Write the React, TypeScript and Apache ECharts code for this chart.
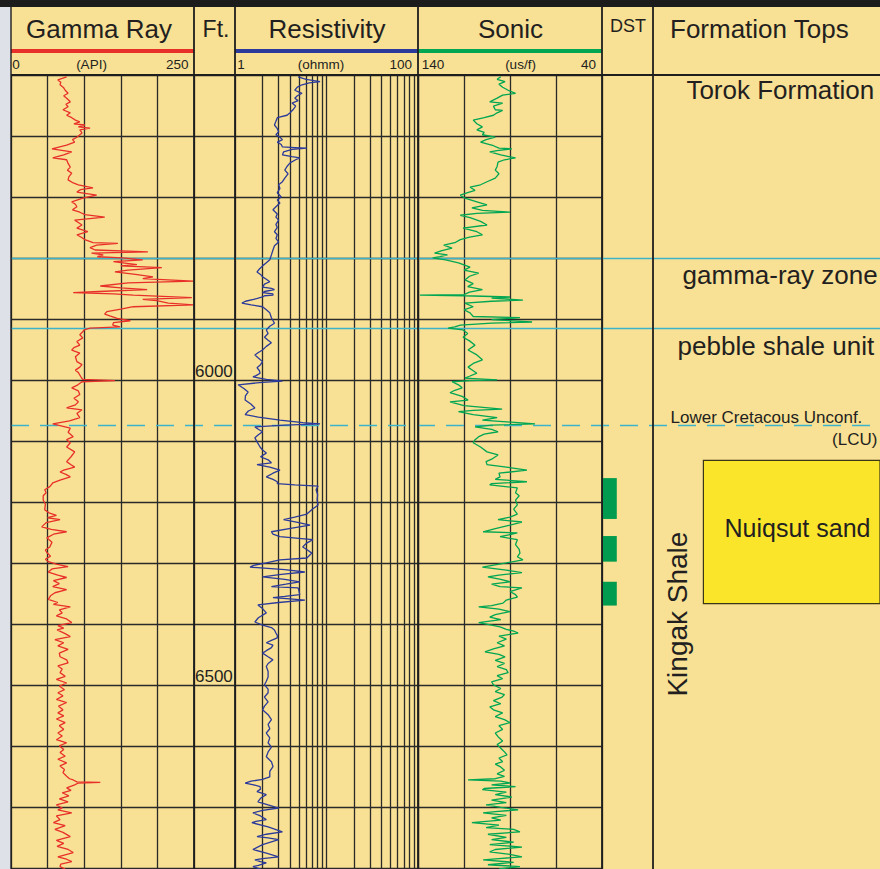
import React, { useEffect, useRef } from "react";
import * as echarts from "echarts";

// Depth window of the log, in feet
const depthTop = 5500;
const depthBottom = 6802;
const depthStep = 100;
const depthLabels = [6000, 6500];

// Gamma ray curve: [depth ft, API]
const gammaRay: [number, number][] = [
  [5503, 76], [5508, 64], [5512, 68], [5516, 67], [5521, 72], [5525, 74], [5530, 78], [5534, 72], [5538, 76], [5544, 81],
  [5548, 75], [5552, 78], [5557, 71], [5562, 81], [5566, 76], [5570, 83], [5574, 88], [5577, 94], [5580, 86], [5582, 101],
  [5585, 92], [5587, 108], [5590, 94], [5595, 97], [5602, 90], [5606, 84], [5610, 87], [5615, 76], [5621, 56], [5626, 83],
  [5631, 72], [5636, 57], [5639, 76], [5645, 78], [5651, 81], [5656, 77], [5661, 83], [5667, 79], [5672, 78], [5677, 85],
  [5680, 92], [5685, 112], [5688, 95], [5692, 90], [5697, 117], [5702, 98], [5708, 83], [5712, 88], [5716, 90], [5721, 84],
  [5725, 94], [5729, 101], [5733, 128], [5738, 87], [5742, 92], [5746, 97], [5751, 90], [5757, 105], [5762, 90], [5766, 96],
  [5770, 101], [5775, 112], [5776, 146], [5779, 117], [5783, 108], [5787, 115], [5790, 187], [5792, 110], [5795, 126], [5798, 118],
  [5800, 152], [5803, 180], [5806, 140], [5808, 153], [5811, 172], [5813, 150], [5816, 206], [5820, 160], [5823, 142], [5827, 170],
  [5831, 194], [5834, 180], [5838, 249], [5841, 160], [5846, 122], [5849, 150], [5852, 186], [5855, 120], [5857, 85], [5859, 140],
  [5861, 167], [5865, 247], [5868, 180], [5870, 199], [5874, 215], [5877, 249], [5880, 167], [5884, 150], [5888, 131], [5892, 128],
  [5895, 135], [5899, 145], [5903, 163], [5906, 140], [5910, 139], [5913, 149], [5915, 108], [5918, 100], [5921, 98], [5926, 94],
  [5931, 98], [5937, 90], [5943, 94], [5947, 86], [5951, 83], [5956, 94], [5962, 88], [5970, 90], [5975, 97], [5979, 94],
  [5984, 88], [5988, 92], [5994, 95], [5999, 98], [6001, 142], [6003, 97], [6009, 90], [6013, 83], [6018, 92], [6024, 94],
  [6030, 86], [6036, 92], [6041, 88], [6046, 76], [6049, 97], [6055, 90], [6062, 94], [6067, 80], [6072, 57], [6079, 81],
  [6086, 78], [6093, 85], [6098, 76], [6103, 81], [6110, 76], [6118, 87], [6126, 82], [6134, 76], [6139, 82], [6143, 87],
  [6148, 72], [6151, 67], [6155, 75], [6159, 81], [6164, 68], [6169, 57], [6175, 53], [6180, 46], [6185, 48], [6190, 44],
  [6197, 44], [6204, 47], [6213, 46], [6218, 52], [6222, 62], [6226, 50], [6229, 67], [6234, 48], [6241, 42], [6245, 55],
  [6249, 76], [6253, 58], [6259, 49], [6266, 56], [6274, 53], [6279, 47], [6283, 49], [6289, 54], [6294, 47], [6298, 51],
  [6302, 62], [6306, 78], [6310, 56], [6315, 51], [6320, 64], [6324, 76], [6329, 58], [6334, 66], [6339, 57], [6344, 76],
  [6349, 60], [6354, 54], [6360, 51], [6365, 64], [6368, 58], [6372, 81], [6377, 66], [6382, 70], [6387, 62], [6392, 76],
  [6398, 83], [6403, 64], [6407, 72], [6410, 63], [6416, 74], [6421, 81], [6426, 60], [6431, 72], [6436, 64], [6442, 78],
  [6448, 66], [6454, 67], [6459, 76], [6464, 78], [6469, 64], [6474, 70], [6480, 67], [6486, 74], [6491, 62], [6497, 76],
  [6502, 66], [6508, 73], [6513, 64], [6518, 71], [6524, 62], [6529, 76], [6535, 65], [6541, 71], [6546, 64], [6551, 72],
  [6556, 62], [6562, 74], [6567, 66], [6573, 72], [6579, 64], [6584, 70], [6590, 62], [6595, 76], [6600, 66], [6606, 72],
  [6611, 67], [6617, 74], [6622, 64], [6628, 76], [6633, 67], [6639, 73], [6644, 71], [6650, 76], [6654, 80], [6656, 85],
  [6659, 90], [6660, 122], [6661, 92], [6664, 87], [6669, 76], [6673, 82], [6677, 70], [6682, 79], [6687, 66], [6692, 78],
  [6697, 62], [6702, 70], [6705, 64], [6710, 83], [6715, 62], [6721, 67], [6726, 58], [6731, 74], [6737, 60], [6742, 71],
  [6749, 81], [6755, 62], [6760, 72], [6765, 63], [6770, 78], [6775, 85], [6782, 64], [6786, 76], [6790, 83], [6794, 68],
  [6798, 67], [6802, 74],
];

// Deep resistivity curve: [depth ft, ohm-m]
const resistivity: [number, number][] = [
  [5503, 4.9], [5507, 6], [5511, 8.5], [5513, 6.5], [5516, 5.4], [5520, 4.8], [5525, 4.5], [5528, 5.0], [5530, 5.4], [5534, 4.8],
  [5538, 4.5], [5542, 4.9], [5546, 4.2], [5551, 4.6], [5557, 4.3], [5562, 4.0], [5566, 3.7], [5570, 2.9], [5576, 2.8], [5582, 2.7],
  [5588, 2.9], [5593, 3.0], [5598, 2.8], [5602, 3.1], [5606, 3.3], [5610, 2.9], [5614, 3.2], [5618, 3.3], [5619, 4.5], [5620, 6.1],
  [5622, 4.2], [5626, 3.4], [5631, 3.3], [5634, 4.2], [5636, 5.1], [5639, 4.6], [5644, 4.0], [5650, 3.7], [5656, 3.5], [5662, 3.8],
  [5669, 3.5], [5675, 3.3], [5680, 3.0], [5686, 3.1], [5693, 2.9], [5700, 3.2], [5705, 2.9], [5710, 3.1], [5716, 2.8], [5721, 2.6],
  [5728, 2.9], [5733, 2.8], [5738, 3.0], [5745, 2.8], [5750, 2.9], [5757, 2.7], [5762, 2.9], [5768, 2.8], [5774, 3.0], [5780, 2.7],
  [5787, 2.6], [5795, 2.5], [5803, 2.4], [5808, 2.2], [5813, 2.0], [5818, 1.85], [5823, 1.74], [5827, 1.9], [5831, 2.0], [5835, 2.2],
  [5839, 2.4], [5843, 2.1], [5848, 2.0], [5850, 2.5], [5852, 2.7], [5855, 2.1], [5857, 2.0], [5859, 2.6], [5861, 2.6], [5862, 2.1],
  [5864, 2.0], [5868, 1.6], [5871, 1.3], [5874, 1.19], [5877, 1.5], [5880, 2.0], [5885, 2.2], [5890, 2.4], [5898, 2.5], [5907, 2.7],
  [5912, 2.4], [5918, 2.2], [5924, 2.3], [5930, 2.1], [5935, 2.3], [5939, 2.5], [5945, 2.2], [5951, 2.0], [5955, 1.8], [5959, 1.65],
  [5964, 1.8], [5970, 2.0], [5975, 1.9], [5980, 1.74], [5985, 1.85], [5989, 1.88], [5993, 1.7], [5995, 1.57], [5999, 2.2], [6002, 3.3],
  [6004, 2.0], [6008, 1.08], [6014, 1.25], [6020, 1.39], [6026, 1.3], [6033, 1.29], [6040, 1.5], [6046, 1.65], [6051, 1.4], [6057, 1.29],
  [6061, 1.8], [6066, 3.1], [6070, 5.5], [6072, 8.5], [6074, 3.5], [6077, 1.65], [6081, 1.8], [6085, 2.0], [6090, 1.8], [6095, 1.65],
  [6102, 1.75], [6110, 1.88], [6115, 2.0], [6120, 2.2], [6126, 1.9], [6131, 2.3], [6136, 2.5], [6139, 1.74], [6143, 2.4], [6148, 3.1],
  [6153, 2.6], [6159, 2.2], [6163, 2.6], [6167, 2.9], [6170, 2.9], [6172, 4.5], [6174, 8.1], [6180, 7.7], [6188, 8.0], [6197, 7.9],
  [6205, 8.1], [6212, 7.0], [6220, 6.1], [6225, 4.5], [6229, 3.4], [6234, 5.0], [6238, 6.6], [6243, 4.2], [6249, 2.5], [6253, 2.6],
  [6257, 3.1], [6260, 5.0], [6262, 7.1], [6268, 6.0], [6274, 5.5], [6279, 6.2], [6284, 6.9], [6288, 6.5], [6292, 6.1], [6295, 3.1],
  [6300, 2.2], [6304, 1.6], [6307, 1.46], [6311, 3.5], [6315, 5.8], [6319, 3.2], [6323, 2.0], [6327, 3.5], [6331, 5.1], [6335, 3.6],
  [6339, 2.5], [6341, 4.9], [6346, 5.0], [6352, 5.1], [6355, 3.5], [6357, 2.6], [6359, 4.0], [6361, 5.8], [6365, 3.0], [6369, 1.78],
  [6375, 2.0], [6382, 2.2], [6390, 1.8], [6397, 1.65], [6402, 2.0], [6406, 2.5], [6410, 2.7], [6415, 2.8], [6419, 2.9], [6423, 2.9],
  [6427, 2.5], [6431, 2.2], [6435, 2.6], [6439, 2.5], [6444, 2.2], [6448, 2.0], [6454, 2.3], [6459, 2.6], [6465, 2.3], [6470, 2.2],
  [6478, 2.3], [6487, 2.3], [6494, 2.2], [6500, 2.1], [6507, 2.3], [6513, 2.3], [6520, 2.1], [6528, 2.3], [6535, 2.1], [6541, 2.0],
  [6549, 2.3], [6557, 2.5], [6565, 2.3], [6572, 2.4], [6579, 2.2], [6587, 2.4], [6595, 2.3], [6602, 2.5], [6610, 2.3], [6618, 2.2],
  [6626, 2.5], [6634, 2.6], [6642, 2.4], [6651, 2.4], [6655, 2.0], [6658, 1.5], [6661, 1.29], [6664, 1.6], [6667, 1.88], [6671, 1.9],
  [6675, 1.74], [6678, 2.0], [6680, 2.2], [6686, 1.9], [6692, 1.78], [6697, 2.3], [6702, 3.0], [6706, 2.0], [6710, 1.57], [6715, 1.9],
  [6721, 2.2], [6724, 1.7], [6726, 1.53], [6733, 2.3], [6741, 3.3], [6745, 2.2], [6749, 1.74], [6751, 2.3], [6754, 3.0], [6762, 2.0],
  [6770, 1.57], [6776, 2.2], [6782, 3.0], [6785, 2.0], [6787, 1.65], [6790, 1.9], [6792, 2.2], [6796, 1.8], [6798, 1.57], [6802, 1.9],
];

// Sonic transit time: [depth ft, us/ft]
const sonic: [number, number][] = [
  [5503, 95], [5507, 97], [5511, 92.7], [5515, 96], [5520, 94], [5525, 91], [5530, 87], [5533, 94], [5538, 97], [5544, 101],
  [5546, 94], [5551, 99], [5557, 98], [5558, 94], [5562, 97], [5566, 99], [5570, 104], [5574, 110], [5580, 108], [5585, 105],
  [5590, 108], [5594, 104], [5598, 105], [5602, 98], [5606, 103], [5610, 106], [5616, 99], [5620, 96], [5621, 89], [5624, 97],
  [5626, 101], [5631, 95], [5636, 87], [5639, 93], [5643, 96.5], [5650, 97], [5656, 98], [5662, 96], [5669, 98], [5675, 102.5],
  [5680, 106], [5684, 111.7], [5689, 109], [5693, 113], [5697, 117], [5702, 114.5], [5708, 108], [5713, 102.5], [5718, 110.7], [5722, 105],
  [5725, 90], [5727, 108], [5730, 117], [5734, 111.7], [5740, 106], [5746, 102.5], [5751, 115.5], [5757, 108], [5762, 105], [5766, 112],
  [5770, 117], [5775, 120], [5779, 126], [5784, 121.5], [5788, 127], [5792, 131], [5795, 124], [5798, 128], [5800, 132], [5803, 125],
  [5808, 118], [5815, 111.7], [5820, 115], [5825, 107], [5830, 112], [5836, 114.5], [5842, 110], [5847, 113], [5852, 105], [5856, 112],
  [5860, 115], [5861, 139], [5862, 115], [5864, 90], [5866, 100], [5869, 83], [5871, 100], [5874, 114.5], [5880, 110], [5885, 115],
  [5890, 111.7], [5896, 110], [5898, 84.6], [5901, 100], [5905, 78], [5907, 100], [5910, 117], [5913, 120], [5915, 123.7], [5918, 115.5],
  [5924, 113], [5930, 115.5], [5936, 112], [5943, 109], [5951, 112.8], [5959, 108], [5967, 105], [5973, 110], [5979, 112.8], [5985, 110],
  [5989, 108], [5994, 112], [5997, 114.5], [6000, 97], [6001, 112], [6003, 121.5], [6008, 118], [6013, 116], [6017, 120], [6021, 122.6],
  [6027, 116], [6033, 112.8], [6036, 122.6], [6042, 115], [6048, 94.3], [6050, 110], [6052, 118], [6057, 110], [6062, 97], [6066, 105],
  [6072, 76.4], [6074, 100], [6077, 109], [6081, 100], [6085, 96.5], [6089, 104], [6093, 107], [6098, 109], [6103, 110], [6110, 106],
  [6118, 102.5], [6123, 96.5], [6130, 100], [6134, 103], [6139, 102.5], [6143, 92], [6148, 80.8], [6153, 96], [6159, 95.4], [6163, 98],
  [6167, 80.8], [6170, 100], [6172, 101], [6177, 86], [6185, 87], [6190, 85], [6197, 87], [6205, 86], [6212, 88], [6220, 86],
  [6225, 90], [6229, 96.5], [6233, 83.5], [6238, 90], [6244, 98], [6249, 104.6], [6251, 86], [6257, 95.4], [6262, 86], [6270, 87],
  [6278, 85], [6284, 84.6], [6290, 86], [6295, 83], [6300, 92], [6307, 105], [6312, 92], [6316, 83.5], [6320, 96], [6323, 102],
  [6327, 95], [6331, 90], [6335, 100], [6339, 95.4], [6341, 83.5], [6347, 90], [6352, 87], [6356, 86], [6361, 92], [6366, 93.8],
  [6370, 100], [6372, 107], [6376, 96], [6380, 90], [6385, 98], [6389, 101], [6393, 95], [6398, 107], [6402, 100], [6405, 95.4],
  [6409, 92], [6412, 88], [6415, 85.6], [6420, 96], [6425, 92], [6431, 97], [6436, 93], [6441, 99], [6446, 103.6], [6450, 96],
  [6454, 92.7], [6460, 98], [6465, 93], [6470, 97], [6475, 92], [6480, 91], [6485, 97], [6490, 94], [6495, 100], [6500, 99],
  [6506, 95], [6511, 98], [6516, 93], [6520, 94.3], [6526, 99], [6531, 95], [6536, 101], [6541, 99], [6546, 94], [6552, 98],
  [6557, 93], [6562, 90], [6567, 96], [6573, 94], [6579, 98], [6585, 96.5], [6592, 94], [6598, 97], [6604, 95], [6610, 93],
  [6615, 91.6], [6620, 96], [6626, 94], [6630, 98], [6634, 95.4], [6640, 93], [6646, 97], [6650, 93], [6654, 98], [6656, 112.8],
  [6658, 95], [6661, 90], [6664, 100], [6667, 87], [6670, 104], [6672, 105], [6676, 92], [6680, 98], [6684, 89], [6689, 100],
  [6693, 92], [6697, 103], [6701, 95], [6705, 85.6], [6708, 98], [6710, 104.6], [6714, 92], [6718, 100], [6722, 95], [6726, 110.7],
  [6730, 96], [6734, 103], [6737, 88], [6741, 84.6], [6745, 102], [6750, 92], [6754, 100], [6758, 88], [6762, 101], [6766, 83.5],
  [6770, 98], [6774, 101], [6778, 90], [6782, 83.5], [6785, 96], [6787, 104.6], [6791, 88], [6795, 102], [6798, 84.6], [6802, 96],
];

// Header texts and scale labels
const trackTitles = ["Gamma Ray", "Ft.", "Resistivity", "Sonic", "DST", "Formation Tops"];
const gammaScale = ["0", "(API)", "250"];
const resistivityScale = ["1", "(ohmm)", "100"];
const sonicScale = ["140", "(us/f)", "40"];

// Log-decade minor grid of the resistivity track
const resistivityMinor = [2, 3, 4, 5, 6, 7, 8, 9, 20, 30, 40, 50, 60, 70, 80, 90];

// Picked surfaces (ft): gamma-ray zone top/base, and the LCU
const zoneSurfaces = [5800, 5916];
const lcuDepth = 6075;

// Drill-stem test intervals [top, base] in ft
const dstIntervals: [number, number][] = [
  [6161, 6228],
  [6256, 6298],
  [6331, 6370],
];

// Nuiqsut sand [top, base] in ft
const nuiqsutSand: [number, number] = [6132, 6367];

const formationNames = [
  "Torok Formation",
  "gamma-ray zone",
  "pebble shale unit",
  "Lower Cretacous Unconf.",
  "(LCU)",
  "Nuiqsut sand",
  "Kingak Shale",
];

// ---- layout ----
const W = 880;
const H = 869;
const PLOT_TOP = 75;
const PLOT_H = H - PLOT_TOP;
const FONT = "'Liberation Sans', Arial, Helvetica, sans-serif";
const INK = "#231f20";
const GRID = "#2a2a2a";
const BG = "#f8e094";

const col = {
  gamma: { left: 11, width: 183 },
  ft: { left: 194, width: 41 },
  res: { left: 235, width: 183 },
  sonic: { left: 418, width: 184 },
  dst: { left: 602, width: 51 },
  tops: { left: 653, width: 227 },
  all: { left: 11, width: 869 },
};

const gridFor = (c: { left: number; width: number }) => ({
  left: c.left,
  top: PLOT_TOP,
  width: c.width,
  height: PLOT_H,
  containLabel: false,
});

const depthAxis = (gridIndex: number, split: boolean, extra: any = {}) => ({
  type: "value",
  gridIndex,
  inverse: true,
  min: depthTop,
  max: depthBottom,
  interval: depthStep,
  axisLine: { show: false },
  axisTick: { show: false },
  axisLabel: { show: false },
  splitLine: { show: split, lineStyle: { color: GRID, width: 1.3 } },
  ...extra,
});

const hiddenX = (gridIndex: number) => ({
  type: "value",
  gridIndex,
  min: 0,
  max: 1,
  show: false,
});

const gridX = (gridIndex: number, extra: any) => ({
  gridIndex,
  axisLine: { show: false },
  axisTick: { show: false },
  axisLabel: { show: false },
  splitLine: { show: true, lineStyle: { color: GRID, width: 1.3 } },
  ...extra,
});

const headerText = (
  text: string,
  x: number,
  y: number,
  size: number,
  align: "left" | "center" | "right" = "center"
) => ({
  type: "text",
  x,
  y,
  z: 20,
  silent: true,
  style: {
    text,
    fill: INK,
    fontSize: size,
    fontFamily: FONT,
    align,
    verticalAlign: "middle",
  },
});

const vLine = (x: number) => ({
  type: "line",
  z: 30,
  silent: true,
  shape: { x1: x, y1: 7, x2: x, y2: H },
  style: { stroke: "#1e1e1e", lineWidth: 1.8 },
});

const colorBar = (left: number, width: number, color: string) => ({
  type: "rect",
  z: 20,
  silent: true,
  shape: { x: left, y: 49, width, height: 4 },
  style: { fill: color },
});

function buildOption() {
  const topsLabel = (
    text: string,
    fx: number,
    depth: number,
    size: number,
    position: string,
    rotate = 0
  ) => ({
    value: [fx, depth],
    label: {
      show: true,
      formatter: text,
      position,
      distance: 0,
      rotate,
      opacity: 1,
      fontSize: size,
      fontFamily: FONT,
      color: INK,
    },
  });

  return {
    animation: false,
    backgroundColor: BG,
    grid: [
      gridFor(col.gamma),
      gridFor(col.ft),
      gridFor(col.res),
      gridFor(col.sonic),
      gridFor(col.dst),
      gridFor(col.tops),
      gridFor(col.all),
    ],
    xAxis: [
      gridX(0, { type: "value", min: 0, max: 250, interval: 50 }),
      hiddenX(1),
      gridX(2, { type: "log", logBase: 10, min: 1, max: 100 }),
      gridX(3, { type: "value", min: 40, max: 140, interval: 25, inverse: true }),
      hiddenX(4),
      hiddenX(5),
      hiddenX(6),
    ],
    yAxis: [
      depthAxis(0, true),
      depthAxis(1, true, {
        axisLabel: {
          show: true,
          inside: true,
          margin: 1,
          fontSize: 17,
          fontFamily: FONT,
          color: INK,
          verticalAlign: "bottom",
          lineHeight: 17,
          formatter: (v: number) => (depthLabels.includes(v) ? String(v) : ""),
        },
      }),
      depthAxis(2, true),
      depthAxis(3, true),
      depthAxis(4, false),
      depthAxis(5, false),
      depthAxis(6, false),
    ],
    series: [
      {
        name: "Gamma Ray",
        type: "line",
        xAxisIndex: 0,
        yAxisIndex: 0,
        z: 4,
        symbol: "none",
        showSymbol: false,
        silent: true,
        lineStyle: { color: "#e8302a", width: 1.3 },
        data: gammaRay.map(([d, v]) => [v, d]),
      },
      {
        name: "resistivity-grid",
        type: "line",
        xAxisIndex: 2,
        yAxisIndex: 2,
        z: 1,
        data: [],
        markLine: {
          silent: true,
          z: 1,
          symbol: ["none", "none"],
          label: { show: false },
          lineStyle: { color: GRID, width: 1.3, type: "solid" },
          data: resistivityMinor.map((v) => ({ xAxis: v })),
        },
      },
      {
        name: "Resistivity",
        type: "line",
        xAxisIndex: 2,
        yAxisIndex: 2,
        z: 4,
        symbol: "none",
        showSymbol: false,
        silent: true,
        lineStyle: { color: "#2b3a9b", width: 1.3 },
        data: resistivity.map(([d, v]) => [v, d]),
      },
      {
        name: "Sonic",
        type: "line",
        xAxisIndex: 3,
        yAxisIndex: 3,
        z: 4,
        symbol: "none",
        showSymbol: false,
        silent: true,
        lineStyle: { color: "#00a651", width: 1.3 },
        data: sonic.map(([d, v]) => [v, d]),
      },
      {
        name: "DST",
        type: "line",
        xAxisIndex: 4,
        yAxisIndex: 4,
        data: [],
        markArea: {
          silent: true,
          itemStyle: { color: "#009b4e" },
          data: dstIntervals.map(([t, b]) => [
            { xAxis: 0.02, yAxis: t },
            { xAxis: 0.29, yAxis: b },
          ]),
        },
      },
      {
        name: "Formation Tops",
        type: "scatter",
        xAxisIndex: 5,
        yAxisIndex: 5,
        symbolSize: 1,
        silent: true,
        itemStyle: { color: "transparent", opacity: 1 },
        data: [
          topsLabel(formationNames[0], 0.145, 5525, 26, "right"),
          topsLabel(formationNames[1], 0.128, 5828, 26, "right"),
          topsLabel(formationNames[2], 0.106, 5944, 26, "right"),
          topsLabel(formationNames[3], 0.075, 6061, 17, "right"),
          topsLabel(formationNames[4], 0.991, 6098, 17, "left"),
          topsLabel(formationNames[5], 0.313, 6243, 25, "right"),
          topsLabel(formationNames[6], 0.11, 6384, 28, "inside", 90),
        ],
        markArea: {
          silent: true,
          z: 1,
          itemStyle: { color: "#fbe52b", borderColor: "#3b3616", borderWidth: 1.2 },
          data: [[{ xAxis: 0.222, yAxis: nuiqsutSand[0] }, { xAxis: 1.01, yAxis: nuiqsutSand[1] }]],
        },
      },
      {
        name: "surfaces",
        type: "line",
        xAxisIndex: 6,
        yAxisIndex: 6,
        z: 3,
        data: [],
        markLine: {
          silent: true,
          z: 3,
          symbol: ["none", "none"],
          label: { show: false },
          lineStyle: { color: "#3db3c9", width: 1.3, type: "solid" },
          data: [
            ...zoneSurfaces.map((d) => ({ yAxis: d })),
            { yAxis: lcuDepth, lineStyle: { color: "#3db3c9", width: 1.3, type: [18, 11] } },
          ],
        },
      },
    ],
    graphic: [
      { type: "rect", z: 40, silent: true, shape: { x: 0, y: 0, width: 10.3, height: H }, style: { fill: "#dfe1e8" } },
      { type: "rect", z: 40, silent: true, shape: { x: 0, y: 0, width: W, height: 7 }, style: { fill: "#1c1c1c" } },
      headerText(trackTitles[0], 99, 29, 26),
      headerText(trackTitles[1], 216, 29, 23),
      headerText(trackTitles[2], 327, 29, 26),
      headerText(trackTitles[3], 510.5, 29, 26),
      headerText(trackTitles[4], 628, 26, 18),
      headerText(trackTitles[5], 670, 29, 26, "left"),
      colorBar(col.gamma.left, col.gamma.width, "#e8302a"),
      colorBar(col.res.left, col.res.width, "#2b3a9b"),
      colorBar(col.sonic.left, col.sonic.width, "#00a651"),
      headerText(gammaScale[0], 12.3, 64, 13.5, "left"),
      headerText(gammaScale[1], 91.5, 64, 13.5),
      headerText(gammaScale[2], 188.5, 64, 13.5, "right"),
      headerText(resistivityScale[0], 237.3, 64, 13.5, "left"),
      headerText(resistivityScale[1], 321, 64, 13.5),
      headerText(resistivityScale[2], 412, 64, 13.5, "right"),
      headerText(sonicScale[0], 421.7, 64, 13.5, "left"),
      headerText(sonicScale[1], 520.5, 64, 13.5),
      headerText(sonicScale[2], 596, 64, 13.5, "right"),
      {
        type: "line",
        z: 30,
        silent: true,
        shape: { x1: 11, y1: PLOT_TOP, x2: W, y2: PLOT_TOP },
        style: { stroke: "#1e1e1e", lineWidth: 1.8 },
      },
      vLine(10.8),
      vLine(194),
      vLine(235),
      vLine(418),
      vLine(602),
      vLine(653),
    ],
  };
}

export default function App() {
  const ref = useRef<HTMLDivElement>(null);

  useEffect(() => {
    if (!ref.current) return;
    const chart = echarts.init(ref.current, null, { renderer: "svg" });
    chart.setOption(buildOption() as any);
    return () => chart.dispose();
  }, []);

  return (
    <div
      ref={ref}
      style={{ position: "absolute", left: 0, top: 0, width: W, height: H }}
    />
  );
}
